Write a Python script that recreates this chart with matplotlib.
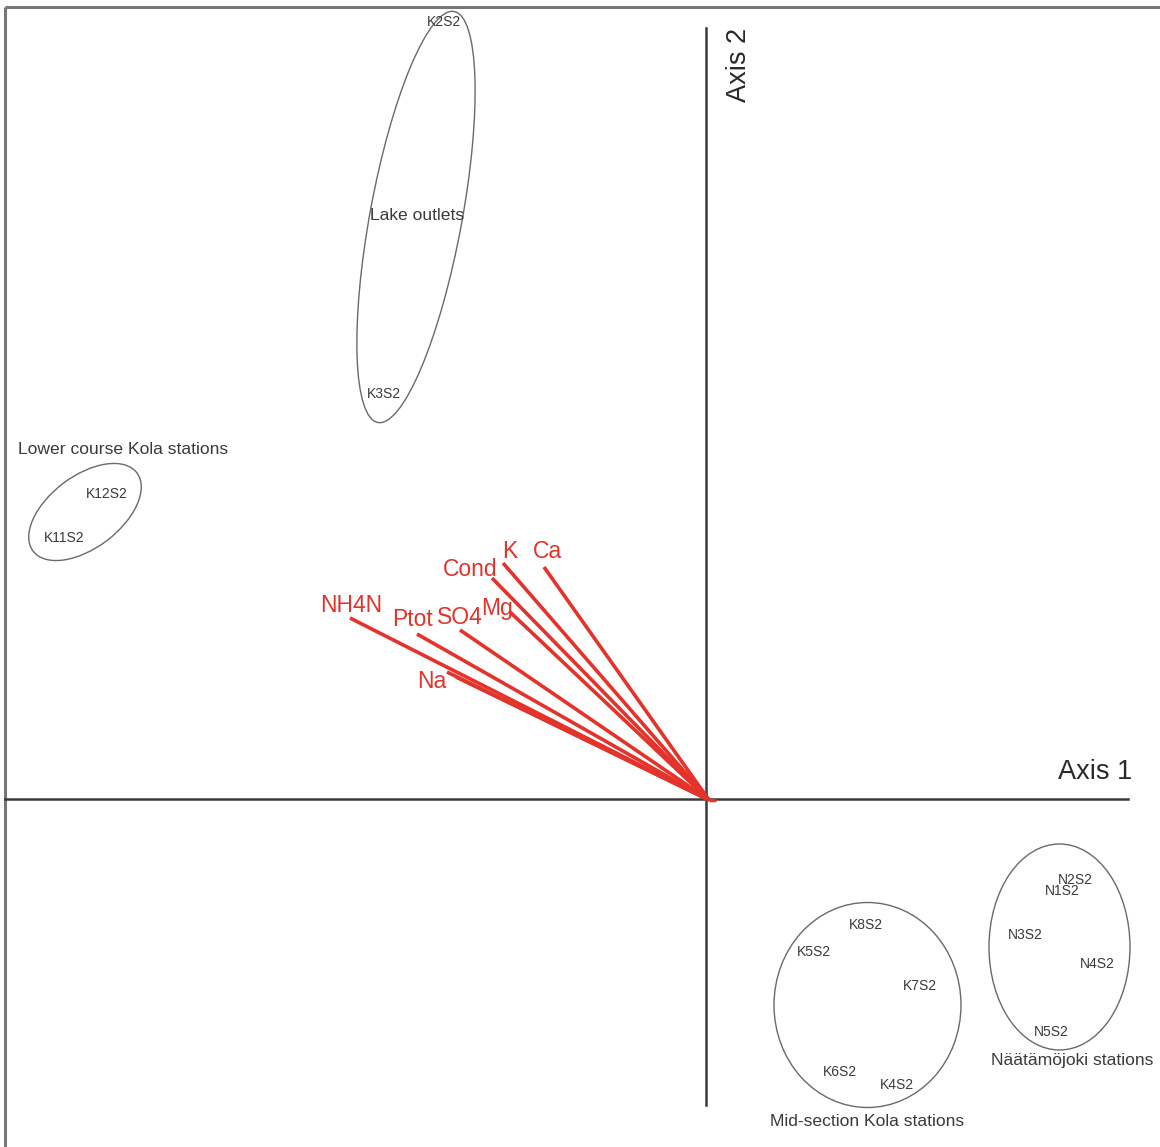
import matplotlib
matplotlib.use("Agg")
import matplotlib.pyplot as plt
from matplotlib.patches import Ellipse

plt.rcParams['font.family'] = ['Liberation Sans', 'DejaVu Sans']

# ---- variable vectors (loadings) ----
var_names = ["NH4N", "Ptot", "SO4", "Mg", "Cond", "K", "Ca", "Na", ""]
var_x = [-3.56, -2.89, -2.46, -1.96, -2.14, -2.03, -1.62, -2.59, -2.50]
var_y = [1.81, 1.65, 1.69, 1.87, 2.21, 2.36, 2.32, 1.27, 1.22]
var_lab_x = [-3.55, -2.94, -2.46, -2.09, -2.36, -1.96, -1.59, -2.74, 0]
var_lab_y = [1.93, 1.79, 1.81, 1.91, 2.29, 2.48, 2.47, 1.18, 0]

# ---- station scores ----
stations = ["K2S2", "K3S2", "K12S2", "K11S2", "K8S2", "K5S2", "K7S2", "K6S2", "K4S2",
            "N2S2", "N1S2", "N3S2", "N4S2", "N5S2"]
st_x = [-2.62, -3.22, -5.99, -6.42, 1.60, 1.08, 2.14, 1.34, 1.91,
        3.69, 3.56, 3.19, 3.91, 3.45]
st_y = [7.77, 4.05, 3.05, 2.61, -1.26, -1.53, -1.87, -2.73, -2.86,
        -0.81, -0.92, -1.36, -1.65, -2.33]

# ---- station groups ----
groups = ["Lake outlets", "Lower course Kola stations", "Mid-section Kola stations", "Näätämöjoki stations"]
grp_cx = [-2.90, -6.21, 1.615, 3.535]
grp_cy = [5.82, 2.87, -2.06, -1.48]
grp_w = [4.18, 1.30, 1.87, 1.41]
grp_h = [0.92, 0.72, 2.05, 2.06]
grp_angle = [79.5, 37.0, 0.0, 0.0]
grp_lab_x = [-2.89, -6.88, 1.61, 3.66]
grp_lab_y = [5.83, 3.50, -3.22, -2.61]

fig = plt.figure(figsize=(11.6, 11.47), dpi=100)
ax = fig.add_axes([0, 0, 1, 1])
ax.set_xlim(-7.06, 4.54)
ax.set_ylim(-3.48, 7.99)
ax.axis('off')

txt = '#3a3a3a'

# frame (top and left)
ax.plot([-7.01, 4.54], [7.92, 7.92], color='#777777', lw=2.2, clip_on=False, solid_capstyle='butt')
ax.plot([-7.01, -7.01], [7.92, -3.48], color='#777777', lw=2.2, clip_on=False, solid_capstyle='butt')

# axes lines
ax.plot([-7.01, 4.22], [0, 0], color='#3a3a3a', lw=1.8)
ax.plot([0, 0], [7.71, -3.06], color='#3a3a3a', lw=1.8)
ax.text(3.89, 0.27, "Axis 1", fontsize=19.5, color='#2a2a2a', ha='center', va='center')
ax.text(0.33, 7.34, "Axis 2", fontsize=19.5, color='#2a2a2a', ha='center', va='center', rotation=90)

# vectors
red = '#e4332a'
ox, oy = 0.03, -0.01
ax.plot([ox, 0.10], [oy, oy], color=red, lw=2.5, solid_capstyle='butt')
for name, x, y, lx, ly in zip(var_names, var_x, var_y, var_lab_x, var_lab_y):
    ax.plot([ox, x], [oy, y], color=red, lw=2.6, solid_capstyle='butt')
    if name:
        ax.text(lx, ly, name, fontsize=16.5, color=red, ha='center', va='center')

# groups
for g, cx, cy, w, h, a, lx, ly in zip(groups, grp_cx, grp_cy, grp_w, grp_h, grp_angle, grp_lab_x, grp_lab_y):
    ax.add_patch(Ellipse((cx, cy), w, h, angle=a, fill=False, edgecolor='#6a6a6a', lw=1.0))
    ha = 'left' if g.startswith('Lower') else 'center'
    ax.text(lx, ly, g, fontsize=12.6, color=txt, ha=ha, va='center')

# stations
for s, x, y in zip(stations, st_x, st_y):
    ax.text(x, y, s, fontsize=10, color=txt, ha='center', va='center')

fig.savefig("out.png", dpi=100)
